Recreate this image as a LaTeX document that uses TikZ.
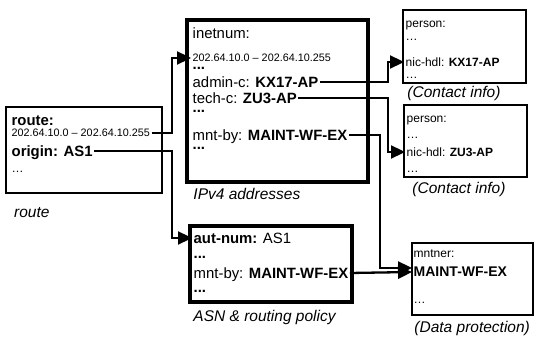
\documentclass[tikz,border=0pt]{standalone}
\usepackage{fontspec}
\setmainfont{Liberation Sans}
\usetikzlibrary{arrows.meta, positioning, calc}

\tikzset{
  obj/.style={draw, line width=#1, inner sep=0pt},
  ln/.style={anchor=west, inner sep=1.5pt, text height=11pt, text depth=0pt,
    font=\fontsize{14.9}{16}\selectfont},
  sm/.style={ln, text height=8pt, font=\fontsize{10.8}{12}\selectfont},
  pl/.style={ln, text height=8.6pt, font=\fontsize{12}{14}\selectfont},
  dotsrow/.style={ln, text height=2pt},
  objlabel/.style={inner sep=0pt, text height=0.75em, text depth=0.2em,
    font=\fontsize{15.5}{17}\selectfont\itshape},
  link/.style={line width=2.3pt, -{Triangle[length=14pt,width=13pt]}}
}

\begin{document}
\begin{tikzpicture}[x=1pt,y=-1pt]
  \useasboundingbox (0,0) rectangle (539,339);
  % objects
  \node[obj=2pt,   minimum width=156pt, minimum height=86pt]  (route) at (84,150)    {};
  \node[obj=3.5pt, minimum width=181pt, minimum height=162pt] (inet)  at (277.5,101) {};
  \node[obj=3.5pt, minimum width=162pt, minimum height=76pt]  (aut)   at (271,264)   {};
  \node[obj=1.5pt, minimum width=123pt, minimum height=73pt]  (pers1) at (464.5,46.5) {};
  \node[obj=1.5pt, minimum width=123pt, minimum height=72pt]  (pers2) at (465.5,141) {};
  \node[obj=1.5pt, minimum width=121pt, minimum height=72pt]  (mnt)   at (472.5,279) {};

  % captions
  \node[objlabel, below right=15.5pt and 9pt of route.south west] (labroute) {route};
  \node[objlabel, below right=8pt and 8pt of inet.south west]     (labinet)  {IPv4 addresses};
  \node[objlabel, below right=10.5pt and 5pt of aut.south west]   (labaut)   {ASN \& routing policy};
  \node[objlabel, below right=6pt and 5pt of pers1.south west]    (labpers1) {(Contact info)};
  \node[objlabel, below right=8pt and 9pt of pers2.south west]    (labpers2) {(Contact info)};
  \node[objlabel, below right=9.5pt and 3pt of mnt.south west]    (labmnt)   {(Data protection)};

  % route
  \node[ln] (rt1)      at (10,120) {\textbf{route:}};
  \node[sm] (rtrange)  at (10,133) {202.64.10.0 – 202.64.10.255};
  \node[ln] (rtorigin) at (10,151) {\textbf{origin: AS1}};
  \node[dotsrow, font=\fontsize{12}{14}\selectfont] (rtdots) at (10,172) {…};

  % inetnum
  \node[ln] (in1)          at (191,33)  {inetnum:};
  \node[sm] (inrange)      at (191,58)  {202.64.10.0 – 202.64.10.255};
  \node[dotsrow] (indots1) at (191,69)  {\textbf{...}};
  \node[ln] (inadmin)      at (191,82)  {admin-c: \textbf{KX17-AP}};
  \node[ln] (intech)       at (191,98)  {tech-c: \textbf{ZU3-AP}};
  \node[dotsrow] (indots2) at (191,112) {\textbf{...}};
  \node[ln] (inmnt)        at (191,135) {mnt-by: \textbf{MAINT-WF-EX}};
  \node[dotsrow] (indots3) at (191,149) {\textbf{...}};

  % aut-num
  \node[ln] (as1)          at (192,238) {\textbf{aut-num:} AS1};
  \node[dotsrow] (asdots1) at (192,258) {\textbf{...}};
  \node[ln] (asmnt)        at (192,273) {mnt-by: \textbf{MAINT-WF-EX}};
  \node[dotsrow] (asdots2) at (192,292) {\textbf{...}};

  % persons
  \node[pl] (p1a)     at (404,23) {person:};
  \node[dotsrow, font=\fontsize{12}{14}\selectfont] (p1dots1) at (404,40) {…};
  \node[pl] (p1nic)   at (404,62) {nic-hdl: \textbf{KX17-AP}};
  \node[dotsrow, font=\fontsize{12}{14}\selectfont] (p1dots2) at (404,78) {…};
  \node[pl] (p2a)     at (405,118) {person:};
  \node[dotsrow, font=\fontsize{12}{14}\selectfont] (p2dots1) at (405,138) {…};
  \node[pl] (p2nic)   at (405,152) {nic-hdl: \textbf{ZU3-AP}};
  \node[dotsrow, font=\fontsize{12}{14}\selectfont] (p2dots2) at (405,172) {…};

  % mntner
  \node[pl] (mnt1)     at (412,253) {mntner:};
  \node[ln, text height=10pt, font=\fontsize{14}{15}\selectfont] (mntmaint) at (412,272) {\textbf{MAINT-WF-EX}};
  \node[dotsrow, font=\fontsize{12}{14}\selectfont] (mntdots) at (412,303) {…};

  % tracks for the connectors
  \coordinate (trackA) at (172,0);
  \coordinate (trackB) at (388,0);
  \coordinate (trackC) at (380,0);

  \draw[link] (rtrange.east)  -- (rtrange.east -| trackA)  |- (inrange.west);
  \draw[link] (rtorigin.east) -- (rtorigin.east -| trackA) |- (as1.west);
  \draw[link] (inadmin.east)  -- (inadmin.east -| trackB)  |- (p1nic.west);
  \draw[link] (intech.east)   -- (intech.east -| trackB)   |- (p2nic.west);
  \draw[link] (inmnt.east)    -- (inmnt.east -| trackC)    |- ($(mntmaint.west)+(0,-4)$);
  \draw[link] (asmnt.east)    -- (mntmaint.west);
\end{tikzpicture}
\end{document}
